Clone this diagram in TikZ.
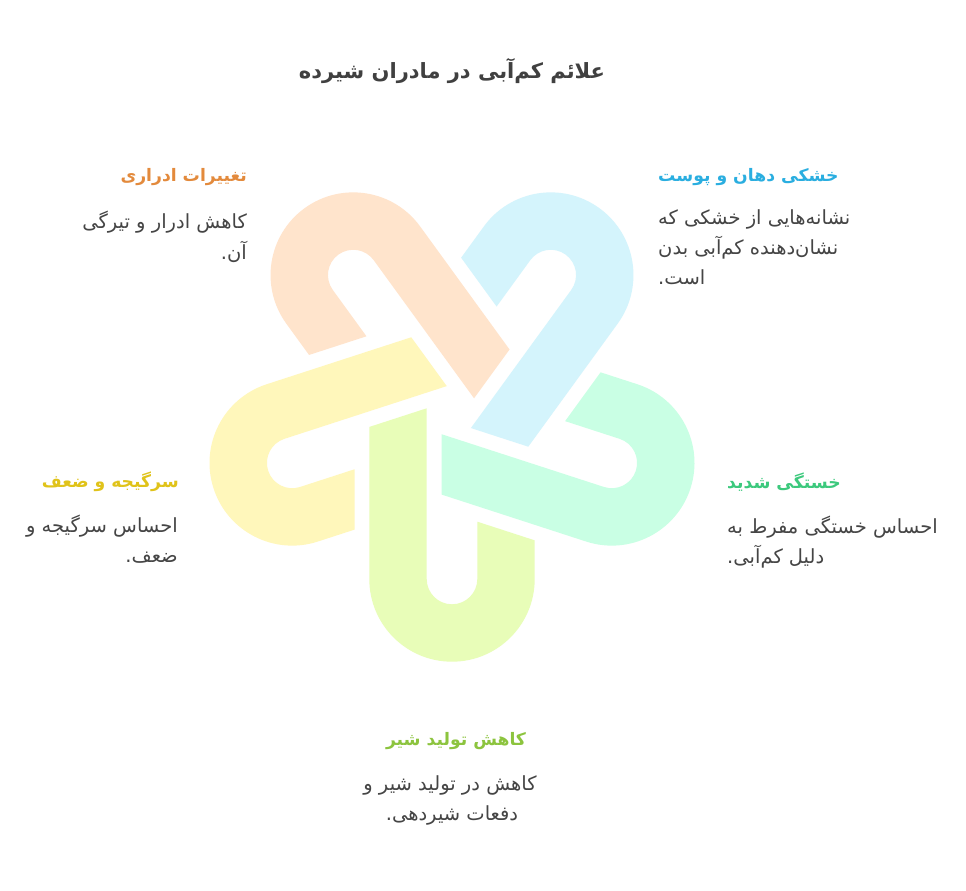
\documentclass[tikz,border=0pt]{standalone}
\usepackage{fontspec}
\TeXXeTstate=1
\newfontfamily\fa[Script=Arabic]{DejaVu Sans}
\definecolor{pOrange}{HTML}{FFE4CC}
\definecolor{pBlue}{HTML}{D4F4FC}
\definecolor{pMint}{HTML}{C9FFE4}
\definecolor{pYellow}{HTML}{FFF7BB}
\definecolor{pLime}{HTML}{E8FDB8}
\definecolor{tOrange}{HTML}{E38A3C}
\definecolor{tBlue}{HTML}{2AAEE0}
\definecolor{tMint}{HTML}{3CC97D}
\definecolor{tYellow}{HTML}{E0C31A}
\definecolor{tLime}{HTML}{8CC43E}
\definecolor{tMain}{HTML}{404040}
\definecolor{tBody}{HTML}{454545}
\tikzset{
  hairpin/.pic={
    \fill[#1] (-82.7,-15.95) -- (-25.3,2.7) -- (-25.3,-168)
      arc[start angle=180,end angle=360,radius=25.3]
      -- (25.3,-110.7) -- (82.7,-129.35) -- (82.7,-168)
      arc[start angle=0,end angle=-180,radius=82.7] -- cycle;
  },
  maintitle/.style={inner sep=0pt, text=tMain, font=\fa\bfseries\fontsize{21}{25}\selectfont},
  sectitle/.style={inner sep=0pt, font=\fa\bfseries\fontsize{17.2}{21}\selectfont},
  bodytext/.style={inner sep=0pt, text=tBody, font=\fa\fontsize{19.5}{23}\selectfont},
}
\begin{document}
\begin{tikzpicture}[x=1pt,y=1pt]
\useasboundingbox[fill=white] (0,0) rectangle (966,891);
% centre at image (452,411) -> (452,480)
\pic at (452,480) {hairpin=pLime};
\pic[rotate=72] at (452,480) {hairpin=pMint};
\pic[rotate=144] at (452,480) {hairpin=pBlue};
\pic[rotate=216] at (452,480) {hairpin=pOrange};
\pic[rotate=288] at (452,480) {hairpin=pYellow};
% title
\node[maintitle, anchor=base] (title) at (452,891-79) {\beginR علائم کم‌آبی در مادران شیرده\endR};
% top-left
\node[sectitle, text=tOrange, anchor=base east] (t1) at (247,891-182) {\beginR تغییرات ادراری\endR};
\node[bodytext, anchor=base east] (b1a) at (247,891-229) {\beginR کاهش ادرار و تیرگی\endR};
\node[bodytext, anchor=base east] (b1b) at (247,891-260) {\beginR آن.\endR};
% top-right
\node[sectitle, text=tBlue, anchor=base west] (t2) at (658,891-182) {\beginR خشکی دهان و پوست\endR};
\node[bodytext, anchor=base west] (b2a) at (658,891-225) {\beginR نشانه‌هایی از خشکی که\endR};
\node[bodytext, anchor=base west] (b2b) at (658,891-255) {\beginR نشان‌دهنده کم‌آبی بدن\endR};
\node[bodytext, anchor=base west] (b2c) at (658,891-285) {\beginR است.\endR};
% left
\node[sectitle, text=tYellow, anchor=base east] (t3) at (179,891-488) {\beginR سرگیجه و ضعف\endR};
\node[bodytext, anchor=base east] (b3a) at (178,891-533) {\beginR احساس سرگیجه و\endR};
\node[bodytext, anchor=base east] (b3b) at (178,891-563) {\beginR ضعف.\endR};
% right
\node[sectitle, text=tMint, anchor=base west] (t4) at (727,891-489) {\beginR خستگی شدید\endR};
\node[bodytext, anchor=base west] (b4a) at (727,891-534) {\beginR احساس خستگی مفرط به\endR};
\node[bodytext, anchor=base west] (b4b) at (727,891-564) {\beginR دلیل کم‌آبی.\endR};
% bottom
\node[sectitle, text=tLime, anchor=base] (t5) at (456,891-746) {\beginR کاهش تولید شیر\endR};
\node[bodytext, anchor=base] (b5a) at (450,891-791) {\beginR کاهش در تولید شیر و\endR};
\node[bodytext, anchor=base] (b5b) at (452,891-821) {\beginR دفعات شیردهی.\endR};
\end{tikzpicture}
\end{document}
